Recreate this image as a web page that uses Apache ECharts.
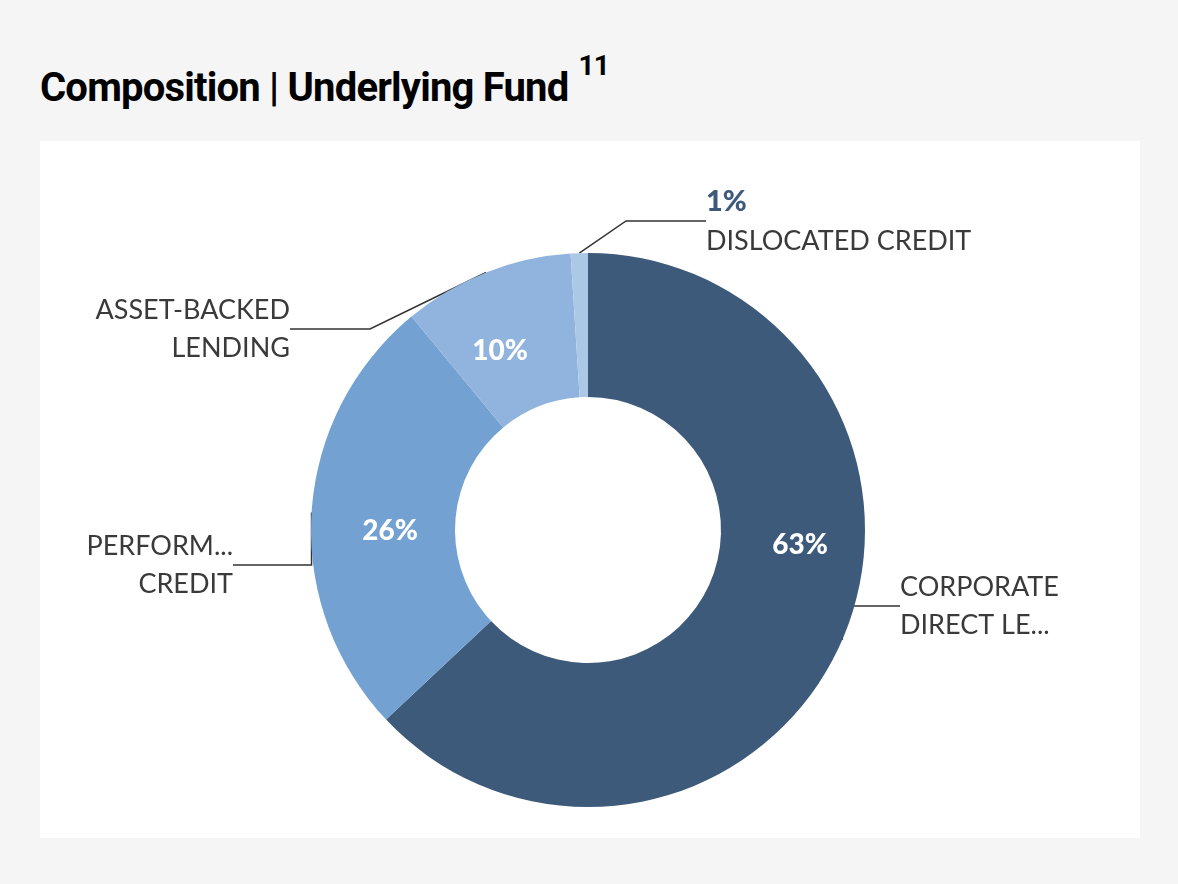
<!DOCTYPE html>
<html>
<head>
<meta charset="utf-8">
<script src="https://cdn.jsdelivr.net/npm/echarts@6/dist/echarts.min.js"></script>
<style>
  body { margin: 0; background: #f5f5f5; font-family: Roboto, "Noto Sans", sans-serif; }
  h1 { position: absolute; left: 40px; top: 55px; margin: 0; font-size: 40px; font-weight: bold; color: #000; letter-spacing: -0.8px; line-height: 46px; }
  h1 sup { font-size: 28px; margin-left: 10px; position: relative; top: -12px; }
  #chart { position: absolute; left: 40px; top: 141px; width: 1100px; height: 697px; background: #fff; }
</style>
</head>
<body>
<h1>Composition | Underlying Fund<sup>11</sup></h1>
<div id="chart"></div>
<script>
// 数据
var categories = ["CORPORATE\nDIRECT LENDING", "PERFORMING\nCREDIT", "ASSET-BACKED\nLENDING", "DISLOCATED CREDIT"];
var values = [63, 26, 10, 1];
var colors = ["#3d5a7a", "#72a1d2", "#90b4dd", "#abc8e7"];

(function () {
  var myChart = echarts.init(document.getElementById("chart"));
  var data = categories.map(function (c, i) {
    return { name: c, value: values[i], itemStyle: { color: colors[i] } };
  });
  // label spots (relative to the chart box)
  var inner = [
    { x: 760, y: 404 }, { x: 350, y: 390 }, { x: 460, y: 210 }, null
  ];
  var spots = [
    { x: 860, y: 465, align: "left" },
    { x: 193, y: 424, align: "right" },
    { x: 250, y: 188, align: "right" },
    { x: 666, y: 80, align: "left" }
  ];

  var option = {
    series: [
      {
        type: "pie",
        center: [548, 389],
        radius: [133, 277],
        startAngle: 90,
        clockwise: true,
        silent: true,
        data: data,
        label: {
          show: true,
          position: "inside",
          color: "#fff",
          fontWeight: 900,
          fontSize: 28,
          fontFamily: "Lato, sans-serif",
          formatter: function (p) { return p.dataIndex === 3 ? "" : p.value + "%"; }
        },
        labelLine: { show: false },
        labelLayout: function (p) {
          var s = inner[p.dataIndex];
          return s ? { x: s.x, y: s.y, align: "center", verticalAlign: "middle" } : {};
        }
      },
      {
        type: "pie",
        center: [548, 389],
        radius: [133, 277],
        startAngle: 90,
        clockwise: true,
        silent: true,
        data: data.map(function (d) { return { name: d.name, value: d.value }; }),
        itemStyle: { color: "rgba(0,0,0,0)" },
        label: {
          show: true,
          position: "outside",
          color: "#3a3a3a",
          fontSize: 27,
          lineHeight: 38,
          fontFamily: "Lato, sans-serif",
          formatter: function (p) {
            return p.dataIndex === 3 ? "{b|" + p.value + "%}\n" + p.name : p.name;
          },
          rich: {
            b: { fontSize: 29, fontWeight: 900, color: "#3d5a7a", fontFamily: "Lato, sans-serif", lineHeight: 40 }
          }
        },
        labelLine: { show: true, length: 30, length2: 80, lineStyle: { color: "#333", width: 1.5 } },
        labelLayout: function (p) {
          var s = spots[p.dataIndex];
          return { x: s.x, y: s.y, align: s.align, verticalAlign: "middle" };
        }
      }
    ]
  };
  myChart.setOption(option);
})();
</script>
</body>
</html>
